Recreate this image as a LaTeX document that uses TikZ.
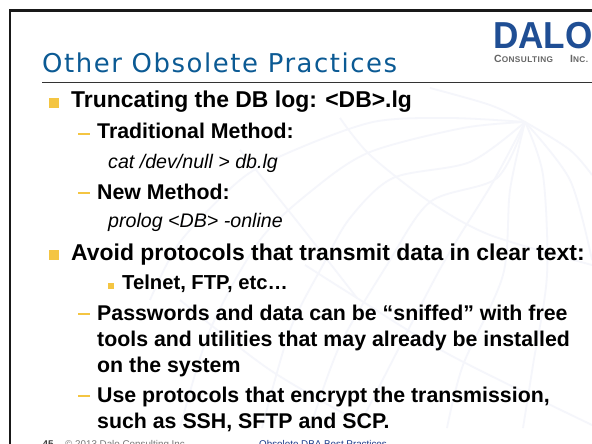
\documentclass[tikz,border=0pt]{standalone}
\usepackage{fontspec}
\setmainfont{Liberation Sans}
\newfontfamily\titlefont[LetterSpace=6]{DejaVu Sans}
\newfontfamily\logofont[LetterSpace=5]{Liberation Sans}
\definecolor{titleblue}{HTML}{0B5A94}
\definecolor{logoblue}{HTML}{1F4E94}
\definecolor{bulletgold}{HTML}{F4C542}
\definecolor{footblue}{HTML}{1A3A8A}
\definecolor{footgray}{HTML}{777777}
\definecolor{globeline}{HTML}{F5F6FB}
\tikzset{
  x=1bp,y=-1bp,
  lv/.style={anchor=base west,inner sep=0pt,font=\fontsize{#1}{#1}\selectfont\bfseries},
  ital/.style={anchor=base west,inner sep=0pt,font=\fontsize{19.7}{19.7}\selectfont\itshape},
  bigbullet/.style={fill=bulletgold,draw=none},
  dashmark/.style={draw=bulletgold,line width=1.2bp},
  foot/.style={anchor=base west,inner sep=0pt,font=\fontsize{9.85}{9.85}\selectfont},
  globe/.style={draw=globeline,line width=1.8bp}
}
\begin{document}
\begin{tikzpicture}
\path[use as bounding box] (0,0) rectangle (592,444);
\clip (0,0) rectangle (592,444);
\fill[white] (0,0) rectangle (592,444);
% faint globe watermark
\begin{scope}
\clip (120,85) rectangle (592,428);
\draw[globe] plot[smooth] coordinates {(525,122) (450,118) (373,122) (290,152) (240,180) (180,242) (150,300)};
\draw[globe] plot[smooth] coordinates {(525,122) (463,128) (370,152) (315,188) (260,240) (210,330) (180,428)};
\draw[globe] plot[smooth] coordinates {(525,122) (470,162) (393,178) (350,218) (323,265) (290,330) (262,428)};
\draw[globe] plot[smooth] coordinates {(525,122) (497,178) (430,202) (387,265) (340,345) (310,428)};
\draw[globe] plot[smooth] coordinates {(525,122) (493,182) (457,240) (433,282) (380,385) (358,428)};
\draw[globe] plot[smooth] coordinates {(525,122) (510,190) (503,275) (463,365) (447,428)};
\draw[globe] plot[smooth] coordinates {(525,122) (543,175) (547,275) (533,365) (523,428)};
\draw[globe] plot[smooth] coordinates {(525,122) (570,180) (592,260)};
\draw[globe] plot[smooth] coordinates {(340,118) (370,155) (430,202) (490,235) (592,265)};
\draw[globe] plot[smooth] coordinates {(305,265) (357,298) (450,355) (592,425)};
\draw[globe] plot[smooth] coordinates {(240,150) (300,225) (357,298)};
\draw[globe] plot[smooth] coordinates {(180,300) (270,370) (370,428)};
\draw[globe] plot[smooth] coordinates {(430,88) (490,105) (525,122) (570,150) (592,175)};
\end{scope}
% frame
\draw[line width=2.4bp,black!90] (9.7,450) -- (9.7,10.5) -- (600,10.5);
% title
\node[anchor=base west,inner sep=0pt,text=titleblue,font=\titlefont\fontsize{26}{26}\selectfont] (title) at (42,73) {Other Obsolete Practices};
\draw[line width=0.8bp,black!80] (42,82) -- (592,82);
% logo
\node[anchor=base west,inner sep=0pt,text=logoblue,xscale=0.935,font=\fontsize{37.7}{37.7}\selectfont\bfseries] (dalo) at (493,49) {DALO};
\node[anchor=base west,inner sep=0pt,text=black!60,font=\logofont\bfseries\fontsize{10.5}{10.5}\selectfont] (cons) at (494,63) {C\fontsize{8.3}{8.3}\selectfont ONSULTING};
\node[anchor=base west,inner sep=0pt,text=black!60,font=\logofont\bfseries\fontsize{10.5}{10.5}\selectfont] (inc) at (570,63) {I\fontsize{8.3}{8.3}\selectfont NC.};
% body
\fill[bigbullet] (49,98.3) rectangle (58.7,107.7);
\node[lv=23] (a) at (71,108) {Truncating the DB log: <DB>.lg};
\draw[dashmark] (78,134) -- (90,134);
\node[lv=21.4] (b) at (97,139) {Traditional Method:};
\node[ital] (c) at (108,169) {cat /dev/null > db.lg};
\draw[dashmark] (78,193) -- (90,193);
\node[lv=21.4] (d) at (97,200) {New Method:};
\node[ital] (e) at (108,228) {prolog <DB> -online};
\fill[bigbullet] (49,250.5) rectangle (58.7,260);
\node[lv=23] (f) at (71,261) {Avoid protocols that transmit data in clear text:};
\fill[bigbullet] (108,283) rectangle (114,289);
\node[lv=20.3] (g) at (122,290) {Telnet, FTP, etc\ldots};
\draw[dashmark] (78,314) -- (90,314);
\node[lv=21.4] (h) at (97,320) {Passwords and data can be “sniffed” with free};
\node[lv=21.4] (i) at (97,346) {tools and utilities that may already be installed};
\node[lv=21.4] (j) at (97,372) {on the system};
\draw[dashmark] (78,396) -- (90,396);
\node[lv=21.4] (k) at (97,402) {Use protocols that encrypt the transmission,};
\node[lv=21.4] (l) at (97,428) {such as SSH, SFTP and SCP.};
% footer
\node[foot,font=\fontsize{9.85}{9.85}\selectfont\bfseries,text=black!75] (n) at (42.5,447) {45};
\node[foot,text=footgray] (m) at (65,447) {© 2013 Dalo Consulting Inc.};
\node[foot,text=footblue] (o) at (259,447) {Obsolete DBA Best Practices};
\end{tikzpicture}
\end{document}
